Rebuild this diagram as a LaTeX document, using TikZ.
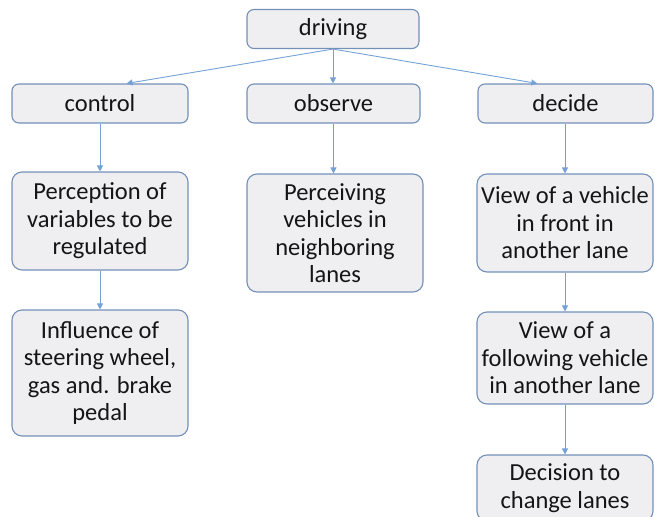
\documentclass[tikz,border=0pt]{standalone}
\usepackage{fontspec}
\setmainfont{Carlito}
\usetikzlibrary{arrows.meta,calc}

\definecolor{boxfill}{HTML}{EFEFF2}
\definecolor{boxline}{HTML}{7390B8}
\definecolor{linkcol}{HTML}{74A2D8}
\definecolor{txt}{HTML}{151515}

\tikzset{
  box/.style={draw=boxline, fill=boxfill, line width=1.1pt, rounded corners=10pt,
    text=txt, align=center, inner sep=0pt,
    font=\fontsize{24.5pt}{27.5pt}\selectfont},
  small/.style={box, minimum height=39pt, rounded corners=7pt},
  link/.style={draw=linkcol, line width=0.9pt, -{Triangle[length=6pt,width=6pt]}},
}

\begin{document}
\begin{tikzpicture}[x=1pt,y=-1pt]
  \useasboundingbox (0,0) rectangle (655,516);

  % top level
  \node[small, minimum width=172pt] (driving) at (333,29) {driving};

  % three branches
  \node[small, minimum width=176pt] (control) at (100,103.5) {control};
  \node[small, minimum width=173pt] (observe) at (333.5,103.5) {observe};
  \node[small, minimum width=175pt] (decide)  at (565.5,103.5) {decide};

  % left column
  \node[box, minimum width=176pt, minimum height=98pt] (percep) at (100,221)
    {Perception of\\variables to be\\regulated};
  \node[box, minimum width=176pt, minimum height=126pt] (influ) at (100,373)
    {Influence of\\steering wheel,\\gas and. brake\\pedal};

  % middle column
  \node[box, minimum width=176pt, minimum height=118pt] (perceiv) at (335,233)
    {Perceiving\\vehicles in\\neighboring\\lanes};

  % right column
  \node[box, minimum width=176pt, minimum height=98pt] (front) at (565,223)
    {View of a vehicle\\in front in\\another lane};
  \node[box, minimum width=176pt, minimum height=92pt] (follow) at (565,358)
    {View of a\\following vehicle\\in another lane};
  \node[box, minimum width=176pt, minimum height=66pt] (change) at (565,488)
    {Decision to\\change lanes};

  % connectors
  \coordinate (cIn) at ($(control.north west)!0.65!(control.north east)$);
  \coordinate (dIn) at ($(decide.north west)!0.34!(decide.north east)$);
  \draw[link] (driving.south) -- (cIn);
  \draw[link] (driving.south) -- (driving.south |- observe.north);
  \draw[link] (driving.south) -- (dIn);
  \draw[link] (control.south) -- (percep.north);
  \draw[link] (percep.south) -- (influ.north);
  \draw[link] (observe.south) -- (observe.south |- perceiv.north);
  \draw[link] (decide.south -| front.north) -- (front.north);
  \draw[link] (front.south) -- (follow.north);
  \draw[link] (follow.south) -- (change.north);
\end{tikzpicture}
\end{document}
